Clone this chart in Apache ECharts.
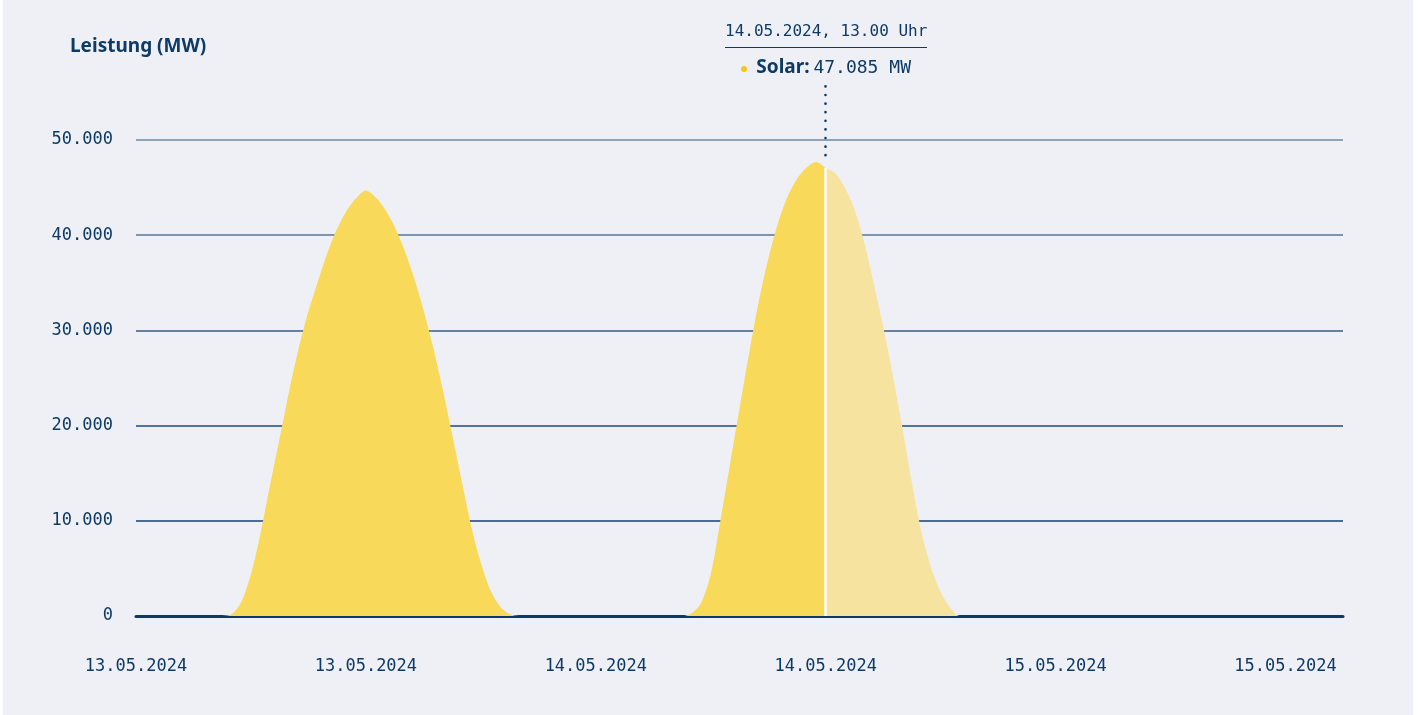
<!DOCTYPE html>
<html>
<head>
<meta charset="utf-8">
<script src="https://cdn.jsdelivr.net/npm/echarts/dist/echarts.min.js"></script>
<style>
html, body { margin: 0; padding: 0; background: #ffffff; }
#chart { position: absolute; left: 3px; top: 0; width: 1410px; height: 715px; background: #eff0f5; }
</style>
</head>
<body>
<div id="chart"></div>
<script>
// half-hourly values (MW), first point = 13.05.2024, 01.00 Uhr
var days = ['13.05.2024', '14.05.2024', '15.05.2024'];
var firstHour = 1;
var solar = [
    0, 0, 0, 0, 0, 0, 0, 0, 0, 0,
    200, 1500, 4400, 8700, 13800, 18700, 23700, 28200, 32000, 35200,
    38200, 40700, 42600, 43900, 44700, 44000, 42700, 40900, 38500, 35600,
    32200, 28300, 23900, 19100, 14200, 9400, 5600, 2700, 1000, 200,
    0, 0, 0, 0, 0, 0, 0, 0, 0, 0,
    0, 0, 0, 0, 0, 0, 0, 0,
    300, 1400, 4400, 10000, 15900, 21800, 27600, 33000, 37500, 41200,
    44000, 45900, 47100, 47700, 47085, 46500, 45000, 42700, 39300, 35000,
    30400, 25300, 19800, 14000, 8800, 5100, 2500, 900,
    0, 0, 0, 0, 0, 0, 0, 0, 0, 0,
    0, 0, 0, 0, 0, 0, 0, 0, 0, 0,
    0, 0, 0, 0, 0, 0, 0, 0, 0, 0,
    0, 0, 0, 0, 0, 0, 0, 0, 0, 0,
    0
];
var cursorIndex = 72;   // 14.05.2024, 13.00 Uhr

var navy = '#0d3a66';
var monoFont = "'DejaVu Sans Mono', 'Liberation Mono', monospace";
var boldFont = "'Noto Sans', 'Lato', sans-serif";

function pad(n) { return (n < 10 ? '0' : '') + n; }
function fmt(v) { return String(v).replace(/\B(?=(\d{3})+(?!\d))/g, '.'); }

var categories = [];
for (var i = 0; i < solar.length; i++) {
    var h = firstHour * 2 + i;          // half hours since 13.05. 00.00
    var hour = Math.floor(h / 2);
    categories.push(days[Math.floor(hour / 24)] + ', ' + pad(hour % 24) + '.' + (h % 2 ? '30' : '00') + ' Uhr');
}

// area before the hovered point is full yellow, after it faded
var split = cursorIndex / (solar.length - 1);
var areaColor = new echarts.graphic.LinearGradient(0, 0, 1, 0, [
    { offset: 0, color: '#f9d95a' },
    { offset: split, color: '#f9d95a' },
    { offset: split, color: '#f7e3a0' },
    { offset: 1, color: '#f7e3a0' }
]);

var myChart = echarts.init(document.getElementById('chart'));

option = {
    backgroundColor: '#eff0f5',
    animation: false,
    title: {
        text: 'Leistung (MW)',
        left: 67,
        top: 37,
        padding: 0,
        textStyle: {
            fontFamily: boldFont,
            fontWeight: 700,
            fontSize: 19,
            color: navy
        }
    },
    grid: {
        left: 133,
        right: 70,
        top: 73.36,
        bottom: 99,
        containLabel: false,
        outerBoundsMode: 'none'
    },
    tooltip: {
        trigger: 'axis',
        triggerOn: 'none',
        alwaysShowContent: true,
        transitionDuration: 0,
        backgroundColor: 'transparent',
        borderWidth: 0,
        padding: 0,
        extraCssText: 'box-shadow:none;',
        axisPointer: { type: 'none' },
        position: function (point, params, dom, rect, size) {
            return [point[0] - size.contentSize[0] / 2, 20];
        },
        formatter: function (params) {
            var p = params[0];
            return '<div style="text-align:center;color:' + navy + ';">' +
                '<div style="font-family:DejaVu Sans Mono;font-size:16px;line-height:22px;padding-bottom:5px;border-bottom:1.5px solid ' + navy + ';white-space:nowrap;">' + p.name + '</div>' +
                '<div style="margin-top:6px;line-height:24px;white-space:nowrap;">' +
                '<span style="display:inline-block;width:6px;height:6px;border-radius:3px;background:#f5c518;vertical-align:middle;margin-right:9px;"></span>' +
                '<span style="font-family:Noto Sans;font-weight:700;font-size:19px;">Solar:</span> ' +
                '<span style="font-family:DejaVu Sans Mono;font-size:18px;">' + fmt(p.value) + ' MW</span>' +
                '</div></div>';
        }
    },
    xAxis: {
        type: 'category',
        data: categories,
        boundaryGap: false,
        axisLine: { lineStyle: { color: navy, width: 3 } },
        axisTick: { show: false },
        axisLabel: {
            interval: 23,
            margin: 42,
            fontFamily: monoFont,
            fontSize: 17,
            color: navy,
            formatter: function (value) { return value.split(',')[0]; }
        },
        splitLine: { show: false }
    },
    yAxis: {
        type: 'value',
        min: 0,
        max: 57000,
        interval: 10000,
        axisLine: { show: false },
        axisTick: { show: false },
        axisLabel: {
            margin: 23,
            fontFamily: monoFont,
            fontSize: 17,
            color: navy,
            showMaxLabel: false,
            formatter: function (v) { return fmt(v); }
        },
        splitLine: {
            show: true,
            showMaxLine: false,
            lineStyle: {
                width: 1.5,
                color: ['#0d3a66', '#16416f', '#22497a', '#3b5c85', '#587496', '#7088a5']
            }
        }
    },
    series: [
        {
            name: 'Solar',
            type: 'line',
            data: solar,
            smooth: 0.3,
            symbol: 'none',
            showSymbol: false,
            color: '#f9d95a',
            lineStyle: { width: 0 },
            areaStyle: { opacity: 1, color: areaColor },
            emphasis: { disabled: true },
            markLine: {
                silent: true,
                symbol: ['none', 'none'],
                label: { show: false },
                animation: false,
                emphasis: { disabled: true },
                data: [
                    [
                        { coord: [categories[cursorIndex], 0], lineStyle: { color: '#ffffff', width: 2.5, type: 'solid' } },
                        { coord: [categories[cursorIndex], solar[cursorIndex]] }
                    ],
                    [
                        { coord: [categories[cursorIndex], 48400], lineStyle: { color: navy, width: 2.6, type: [0.1, 8.5], cap: 'round' } },
                        { coord: [categories[cursorIndex], 56200] }
                    ]
                ]
            }
        }
    ]
};

myChart.setOption(option);
myChart.dispatchAction({ type: 'showTip', seriesIndex: 0, dataIndex: cursorIndex });
</script>
</body>
</html>
